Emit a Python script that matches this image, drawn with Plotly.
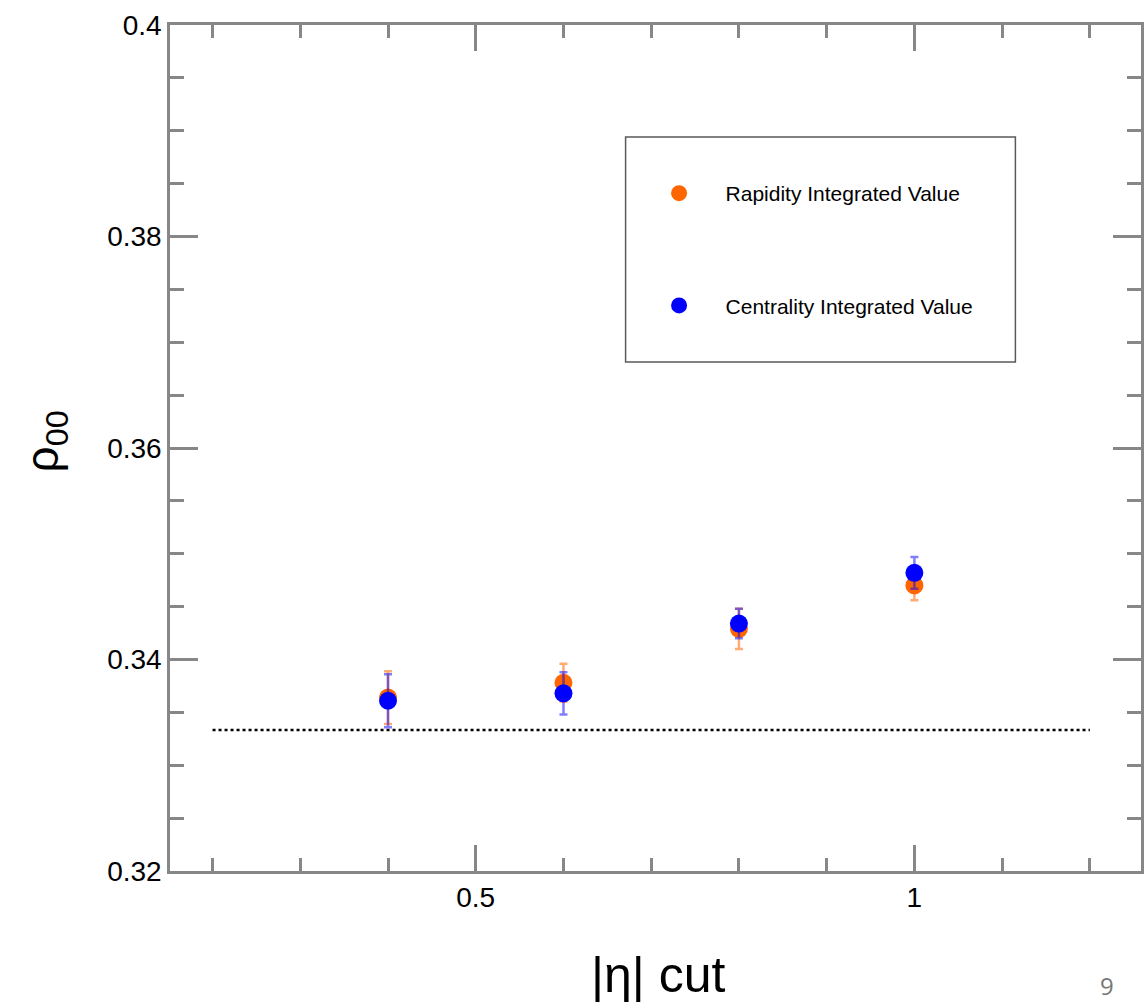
import plotly.graph_objects as go

# ---- data ----
eta_cut = [0.4, 0.6, 0.8, 1.0]
rapidity_val = [0.3364, 0.3378, 0.3429, 0.3470]
rapidity_err = [0.0025, 0.0018, 0.0019, 0.0014]
centrality_val = [0.3361, 0.3368, 0.3434, 0.3482]
centrality_err = [0.0025, 0.0020, 0.0014, 0.0015]
ref_x = [0.2, 1.2]
ref_y = [1 / 3, 1 / 3]
x_range = [0.1515, 1.2583]
y_range = [0.32, 0.40]
x_tickvals = [0.5, 1.0]
x_ticktext = ["0.5", "1"]
y_tickvals = [0.32, 0.34, 0.36, 0.38, 0.40]
y_ticktext = ["0.32", "0.34", "0.36", "0.38", "0.4"]

ORANGE = "rgb(255,102,0)"
BLUE = "rgb(0,0,255)"
AXIS = "rgb(135,135,135)"
FONT = "Liberation Sans, Arial, sans-serif"

fig = go.Figure()

fig.add_trace(go.Scatter(
    x=ref_x, y=ref_y, mode="lines",
    line=dict(color="black", width=2.5, dash="dot"),
    showlegend=False, hoverinfo="skip"))

fig.add_trace(go.Scatter(
    x=eta_cut, y=rapidity_val, mode="markers",
    name="Rapidity Integrated Value", legendgroup="a",
    marker=dict(color=ORANGE, size=18, line=dict(width=0)),
    error_y=dict(type="data", array=rapidity_err, color="rgba(255,102,0,0.55)",
                 thickness=2.5, width=4)))

fig.add_trace(go.Scatter(
    x=eta_cut, y=centrality_val, mode="markers",
    name="Centrality Integrated Value", legendgroup="b",
    marker=dict(color=BLUE, size=18, line=dict(width=0)),
    error_y=dict(type="data", array=centrality_err, color="rgba(0,0,255,0.5)",
                 thickness=2.5, width=4)))

axis_common = dict(
    showgrid=False, zeroline=False, showline=True, linecolor=AXIS, linewidth=2.5,
    mirror="ticks", ticks="inside", tickcolor=AXIS, tickwidth=2.5,
    tickfont=dict(family=FONT, size=28, color="black"),
)

fig.update_xaxes(
    range=x_range, tickvals=x_tickvals, ticktext=x_ticktext, ticklen=26,
    minor=dict(dtick=0.1, tick0=0.0, ticks="inside", ticklen=13, tickcolor=AXIS, tickwidth=2.5),
    **axis_common)
fig.update_yaxes(
    range=y_range, tickvals=y_tickvals, ticktext=y_ticktext, ticklen=28,
    minor=dict(dtick=0.005, tick0=0.0, ticks="inside", ticklen=14, tickcolor=AXIS, tickwidth=2.5),
    **axis_common)

fig.add_shape(type="rect", xref="paper", yref="paper",
              x0=(627 - 170) / 974, x1=(1018 - 170) / 974,
              y0=(871 - 362) / 846, y1=(871 - 137) / 846,
              line=dict(color="rgb(90,90,90)", width=1.5), fillcolor="rgba(0,0,0,0)")

fig.add_annotation(text="ρ<sub>00</sub>", textangle=-90, showarrow=False,
                   xref="paper", yref="paper", x=(45 - 170) / 974, y=(871 - 441) / 846,
                   xanchor="center", yanchor="middle",
                   font=dict(family=FONT, size=46, color="black"))
fig.add_annotation(text="|η| cut", showarrow=False,
                   xref="paper", yref="paper", x=(660 - 170) / 974, y=(871 - 975) / 846,
                   xanchor="center", yanchor="middle",
                   font=dict(family=FONT, size=50, color="black"))
fig.add_annotation(text="9", showarrow=False,
                   xref="paper", yref="paper", x=(1110 - 170) / 974, y=(871 - 985) / 846,
                   xanchor="center", yanchor="middle",
                   font=dict(family="Open Sans, sans-serif", size=24, color="rgb(120,120,120)"))

fig.update_layout(
    width=1144, height=1005,
    margin=dict(l=170, r=0, t=25, b=134),
    plot_bgcolor="white", paper_bgcolor="white",
    font=dict(family=FONT),
    legend=dict(x=(634 - 170) / 974, y=(871 - 173) / 846, xanchor="left", yanchor="top",
                bgcolor="rgba(0,0,0,0)", borderwidth=0,
                font=dict(family=FONT, size=21, color="black"),
                tracegroupgap=82, traceorder="grouped", itemwidth=83),
)

fig.write_html("out.html")
